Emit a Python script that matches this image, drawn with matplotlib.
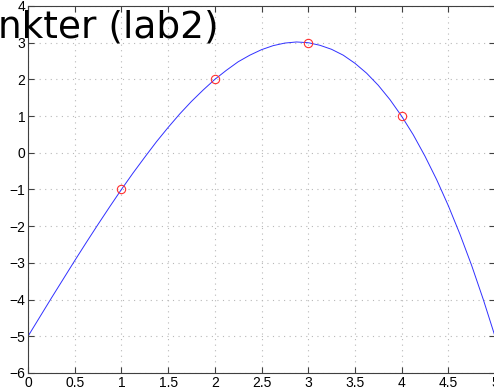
import matplotlib
matplotlib.use('Agg')
import matplotlib.pyplot as plt

# data points (red circles)
px = [1, 2, 3, 4]
py = [-1, 2, 3, 1]

# curve
cx = [0, 0.125, 0.25, 0.375, 0.5, 0.625, 0.75, 0.875, 1, 1.125, 1.25,
      1.375, 1.5, 1.625, 1.75, 1.875, 2, 2.125, 2.25, 2.375, 2.5,
      2.625, 2.75, 2.875, 3, 3.125, 3.25, 3.375, 3.5, 3.625, 3.75,
      3.875, 4, 4.125, 4.25, 4.375, 4.5, 4.625, 4.75, 4.875, 5]
cy = [-5, -4.48, -3.96, -3.45, -2.94, -2.44, -1.95, -1.47, -1, -0.55, -0.12,
      0.30, 0.69, 1.06, 1.40, 1.71, 2, 2.25, 2.48, 2.66, 2.81,
      2.92, 2.99, 3.02, 3, 2.93, 2.82, 2.66, 2.44, 2.17, 1.84,
      1.45, 1, 0.49, -0.09, -0.73, -1.44, -2.22, -3.07, -4.00, -5]

xticks = [0, 0.5, 1, 1.5, 2, 2.5, 3, 3.5, 4, 4.5, 5]
xlabels = ['0', '0.5', '1', '1.5', '2', '2.5', '3', '3.5', '4', '4.5', '5']
yticks = [-6, -5, -4, -3, -2, -1, 0, 1, 2, 3, 4]

plt.rcParams['font.family'] = ['Liberation Sans', 'DejaVu Sans']

fig = plt.figure(figsize=(4.94, 3.92), dpi=100)
ax = fig.add_axes([28 / 494, 19 / 392, 467 / 494, 367 / 392])

ax.plot(cx, cy, color='#3030ff', lw=0.7)
ax.plot(px, py, 'o', mfc='none', mec='#ff3030', ms=6, mew=0.8)

ax.set_xlim(0, 5)
ax.set_ylim(-6, 4)
ax.set_xticks(xticks)
ax.set_xticklabels(xlabels)
ax.set_yticks(yticks)
ax.grid(True, linestyle=(0, (1, 4)), color='#b8b8b8', lw=0.8)
ax.tick_params(direction='in', top=True, right=True, labelsize=10,
               length=4, width=0.8, color='#404040', pad=2)
for s in ax.spines.values():
    s.set_color('#404040')
    s.set_linewidth(0.8)

fig.text(-0.005, 0.905, 'nkter (lab2)', fontsize=27, family='DejaVu Sans',
         ha='left', va='baseline')

fig.savefig('out.png', dpi=100)
